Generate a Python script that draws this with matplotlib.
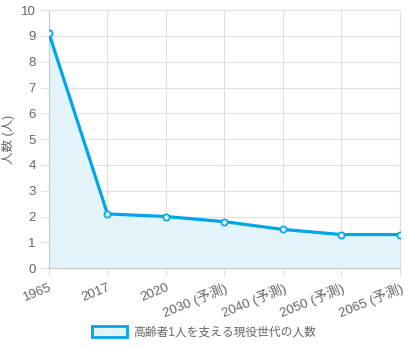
import matplotlib.pyplot as plt
from matplotlib.patches import Patch

plt.rcParams['font.family'] = ['Liberation Sans', 'Noto Sans CJK JP', 'DejaVu Sans']

years = ['1965', '2017', '2020', '2030 (予測)', '2040 (予測)', '2050 (予測)', '2065 (予測)']
workers = [9.1, 2.1, 2.0, 1.8, 1.5, 1.3, 1.3]
label = '高齢者1人を支える現役世代の人数'

line_c = '#00a5ec'
fill_c = '#e3f4fb'
grid_c = '#e0e0e0'
txt_c = '#666666'

fig = plt.figure(figsize=(4.08, 3.5), dpi=100)
ax = fig.add_axes([0.120, 0.234, 0.860, 0.737])

x = list(range(len(years)))
ax.fill_between(x, workers, 0, color=fill_c, zorder=1)
ax.plot(x, workers, color=line_c, lw=2.3, zorder=3)
ax.plot(x, workers, 'o', ms=4.5, mfc=fill_c, mec=line_c, mew=1.2, zorder=4)

ax.set_xlim(0, len(years) - 1)
ax.set_ylim(0, 10)
ax.set_yticks(range(0, 11))
ax.set_xticks(x)
ax.set_xticklabels(years, rotation=22, ha='right', rotation_mode='anchor')
ax.grid(True, color=grid_c, lw=0.8)
ax.set_axisbelow(True)
for s in ax.spines.values():
    s.set_color(grid_c)
ax.spines['left'].set_color('#c8c8c8')
ax.spines['bottom'].set_color('#c8c8c8')
ax.tick_params(colors=txt_c, labelsize=9.5, length=6, width=0.8)
ax.tick_params(axis='both', color=grid_c)
ax.set_ylabel('人数 (人)', color=txt_c, fontsize=9, labelpad=4)

fig.legend(handles=[Patch(facecolor=fill_c, edgecolor=line_c, lw=2, label=label)],
           loc='center', bbox_to_anchor=(0.5, 0.05), frameon=False,
           fontsize=8.5, labelcolor=txt_c, handlelength=3.0, handleheight=1.0,
           handletextpad=0.5)

fig.savefig('out.png', dpi=100)
